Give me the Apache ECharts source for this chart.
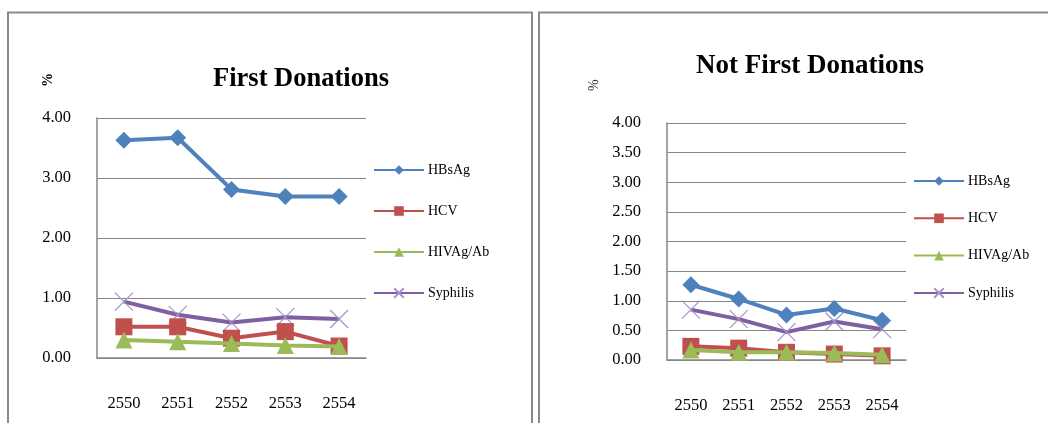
<!DOCTYPE html>
<html>
<head>
<meta charset="utf-8">
<script src="https://cdn.jsdelivr.net/npm/echarts@6/dist/echarts.min.js"></script>
<style>html,body{margin:0;padding:0;background:#fff;}#c{width:1048px;height:423px;}</style>
</head>
<body>
<div id="c"></div>
<script>
var years = ['2550', '2551', '2552', '2553', '2554'];
var seriesNames = ['HBsAg', 'HCV', 'HIVAg/Ab', 'Syphilis'];
var firstHBsAg = [3.63, 3.67, 2.81, 2.69, 2.69];
var firstHCV = [0.52, 0.52, 0.33, 0.44, 0.20];
var firstHIV = [0.30, 0.27, 0.24, 0.21, 0.19];
var firstSyphilis = [0.94, 0.72, 0.59, 0.68, 0.65];
var notFirstHBsAg = [1.27, 1.03, 0.76, 0.87, 0.67];
var notFirstHCV = [0.23, 0.20, 0.13, 0.10, 0.07];
var notFirstHIV = [0.17, 0.13, 0.13, 0.12, 0.09];
var notFirstSyphilis = [0.85, 0.69, 0.47, 0.65, 0.52];

var FONT = '"Liberation Serif", "DejaVu Serif", serif';
var colors = ['#4F81BD', '#C0504D', '#9BBB59', '#7F5FA0'];
var symbols = ['diamond', 'rect', 'triangle', 'path://M0,0L10,10M10,0L0,10'];
var sizes = [17, 17, 17, 18];

function mkSeries(name, idx, data, gi) {
  var isX = idx === 3;
  return {
    name: name, type: 'line', xAxisIndex: gi, yAxisIndex: gi, data: data,
    symbol: symbols[idx], symbolSize: sizes[idx], showAllSymbol: true,
    lineStyle: { color: colors[idx], width: 4 },
    itemStyle: isX ? { color: 'rgba(0,0,0,0)', borderColor: '#A393C8', borderWidth: 1.2 } : { color: colors[idx], borderWidth: 0 },
    emphasis: { disabled: true },
    z: isX ? 2 : (idx === 0 ? 4 : (idx === 1 ? 3 : 5))
  };
}

var axisLabelStyle = { fontFamily: FONT, fontSize: 16.5, color: '#000' };
var gridLine = { show: true, lineStyle: { color: '#868686', width: 1 } };

var option = {
  animation: false,
  backgroundColor: '#fff',
  title: [
    { text: 'First Donations', left: 296, top: 61, textAlign: 'center',
      textStyle: { fontFamily: FONT, fontSize: 26.5, fontWeight: 'bold', color: '#000' } },
    { text: 'Not First Donations', left: 805, top: 48, textAlign: 'center',
      textStyle: { fontFamily: FONT, fontSize: 27, fontWeight: 'bold', color: '#000' } }
  ],
  legend: [
    { data: seriesNames, orient: 'vertical', left: 368, top: 158, itemWidth: 50, itemHeight: 12, itemGap: 27,
      textStyle: { fontFamily: FONT, fontSize: 14, color: '#000', padding: [0, 0, 0, -1] },
      lineStyle: { width: 2 }, selectedMode: false },
    { data: seriesNames, orient: 'vertical', left: 908, top: 169, itemWidth: 50, itemHeight: 12, itemGap: 23.3,
      textStyle: { fontFamily: FONT, fontSize: 14, color: '#000', padding: [0, 0, 0, -1] },
      lineStyle: { width: 2 }, selectedMode: false }
  ],
  grid: [
    { left: 97, top: 118, width: 269, height: 240 },
    { left: 667, top: 123, width: 239, height: 237 }
  ],
  xAxis: [0, 1].map(function (i) {
    return {
      type: 'category', gridIndex: i, data: years, boundaryGap: true,
      axisLine: { lineStyle: { color: '#868686', width: 1.5 } },
      axisTick: { show: false },
      axisLabel: Object.assign({ margin: 37 }, axisLabelStyle)
    };
  }),
  yAxis: [
    { type: 'value', gridIndex: 0, min: 0, max: 4, interval: 1,
      axisLine: { show: true, lineStyle: { color: '#868686', width: 1.5 } }, axisTick: { show: false },
      splitLine: gridLine,
      axisLabel: Object.assign({ margin: 26, formatter: function (v) { return v.toFixed(2); } }, axisLabelStyle) },
    { type: 'value', gridIndex: 1, min: 0, max: 4, interval: 0.5,
      axisLine: { show: true, lineStyle: { color: '#868686', width: 1.5 } }, axisTick: { show: false },
      splitLine: gridLine,
      axisLabel: Object.assign({ margin: 26, formatter: function (v) { return v.toFixed(2); } }, axisLabelStyle) }
  ],
  graphic: [
    { type: 'polyline', shape: { points: [[8, 430], [8, 12.5], [532, 12.5], [532, 430]] },
      style: { stroke: '#8a8a8a', lineWidth: 2, fill: null }, silent: true },
    { type: 'polyline', shape: { points: [[539, 430], [539, 12.5], [1050, 12.5]] },
      style: { stroke: '#8a8a8a', lineWidth: 2, fill: null }, silent: true },
    { type: 'text', x: 41, y: 87, rotation: Math.PI / 2,
      style: { text: '%', fontFamily: FONT, fontSize: 14, fontWeight: 'bold', fill: '#000' }, silent: true },
    { type: 'text', x: 587, y: 91, rotation: Math.PI / 2,
      style: { text: '%', fontFamily: FONT, fontSize: 14, fill: '#333' }, silent: true }
  ],
  series: [
    mkSeries('HBsAg', 0, firstHBsAg, 0),
    mkSeries('HCV', 1, firstHCV, 0),
    mkSeries('HIVAg/Ab', 2, firstHIV, 0),
    mkSeries('Syphilis', 3, firstSyphilis, 0),
    mkSeries('HBsAg', 0, notFirstHBsAg, 1),
    mkSeries('HCV', 1, notFirstHCV, 1),
    mkSeries('HIVAg/Ab', 2, notFirstHIV, 1),
    mkSeries('Syphilis', 3, notFirstSyphilis, 1)
  ]
};
var chart = echarts.init(document.getElementById('c'), null, { renderer: 'canvas' });
chart.setOption(option);
</script>
</body>
</html>
